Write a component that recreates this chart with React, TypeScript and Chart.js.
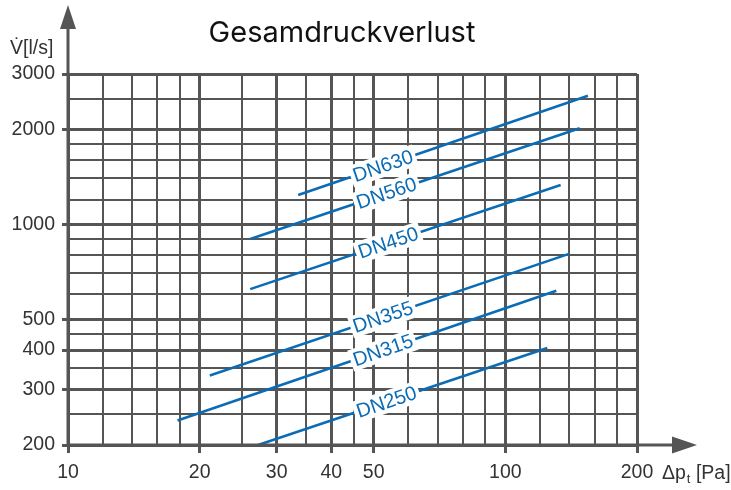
import React, { useEffect, useRef } from 'react';
import { Chart, registerables } from 'chart.js';

Chart.register(...registerables);

// ---- data ----
const seriesNames = ['DN250', 'DN315', 'DN355', 'DN450', 'DN560', 'DN630'];
const dn250 = [{ x: 27.2, y: 200 }, { x: 124.7, y: 406 }];
const dn315 = [{ x: 17.8, y: 239 }, { x: 130.8, y: 617 }];
const dn355 = [{ x: 21.1, y: 332 }, { x: 139.8, y: 807 }];
const dn450 = [{ x: 26.1, y: 624 }, { x: 133.8, y: 1335 }];
const dn560 = [{ x: 26.1, y: 900 }, { x: 147.9, y: 2019 }];
const dn630 = [{ x: 33.6, y: 1241 }, { x: 154.5, y: 2561 }];
const seriesData = [dn250, dn315, dn355, dn450, dn560, dn630];
const labelAtX = [53.5, 52.5, 52.5, 54, 53.5, 52.5];

const xGrid = [10, 12, 14, 16, 18, 20, 25, 30, 35, 40, 45, 50, 60, 70, 80, 90, 100, 120, 140, 160, 180, 200];
const xLabeled = [10, 20, 30, 40, 50, 100, 200];
const yGrid = [200, 250, 300, 350, 400, 450, 500, 600, 700, 800, 900, 1000, 1200, 1400, 1600, 1800, 2000, 2500, 3000];
const yLabeled = [200, 300, 400, 500, 1000, 2000, 3000];

const titleText = 'Gesamdruckverlust';
const yTitle = 'V\u0307[l/s]';

const BLUE = '#0b6cb5';
const GRID = '#555555';
const TEXT = '#333333';
const FONT = '"Liberation Sans", Arial, sans-serif';

const decorPlugin = {
  id: 'decor',
  afterDatasetsDraw(chart: any) {
    const ctx = chart.ctx;
    const xs = chart.scales.x;
    const ys = chart.scales.y;
    chart.data.datasets.forEach((ds: any, i: number) => {
      const p0 = ds.data[0];
      const p1 = ds.data[ds.data.length - 1];
      const x0 = xs.getPixelForValue(p0.x);
      const y0 = ys.getPixelForValue(p0.y);
      const x1 = xs.getPixelForValue(p1.x);
      const y1 = ys.getPixelForValue(p1.y);
      const px = xs.getPixelForValue(labelAtX[i]);
      const t = (px - x0) / (x1 - x0);
      const py = y0 + t * (y1 - y0);
      const ang = Math.atan2(y1 - y0, x1 - x0);
      ctx.save();
      ctx.translate(px, py);
      ctx.rotate(ang);
      ctx.font = '20px ' + FONT;
      const w = ctx.measureText(ds.label).width;
      ctx.fillStyle = '#ffffff';
      ctx.fillRect(-w / 2 - 3, -11, w + 6, 22);
      ctx.fillStyle = BLUE;
      ctx.textAlign = 'center';
      ctx.textBaseline = 'middle';
      ctx.fillText(ds.label, 0, 1);
      ctx.restore();
    });
  },
  afterDraw(chart: any) {
    const ctx = chart.ctx;
    const { left, bottom } = chart.chartArea;
    ctx.save();
    // axes with arrows
    ctx.strokeStyle = GRID;
    ctx.fillStyle = GRID;
    ctx.lineWidth = 3;
    ctx.beginPath();
    ctx.moveTo(left, bottom + 1);
    ctx.lineTo(left, 29);
    ctx.moveTo(left - 1, bottom);
    ctx.lineTo(672, bottom);
    ctx.stroke();
    ctx.beginPath();
    ctx.moveTo(left - 8, 29);
    ctx.lineTo(left + 8, 29);
    ctx.lineTo(left, 5);
    ctx.closePath();
    ctx.fill();
    ctx.beginPath();
    ctx.moveTo(672, bottom - 8.5);
    ctx.lineTo(672, bottom + 8.5);
    ctx.lineTo(697, bottom);
    ctx.closePath();
    ctx.fill();

    // title
    ctx.fillStyle = '#111111';
    ctx.font = '29px Inter, "Liberation Sans", sans-serif';
    ctx.textAlign = 'center';
    ctx.textBaseline = 'alphabetic';
    ctx.fillText(titleText, 342, 42);

    // y axis title
    ctx.fillStyle = TEXT;
    ctx.font = '19.5px ' + FONT;
    ctx.textAlign = 'left';
    ctx.textBaseline = 'middle';
    ctx.fillText(yTitle, 10, 49);

    // x axis title: Δp_t [Pa]
    let xx = 662;
    const yy = 474;
    ctx.font = '19.5px ' + FONT;
    ctx.fillText('\u0394p', xx, yy);
    xx += ctx.measureText('\u0394p').width + 1;
    ctx.font = '13px ' + FONT;
    ctx.fillText('t', xx, yy + 5);
    xx += ctx.measureText('t').width;
    ctx.font = '19.5px ' + FONT;
    ctx.fillText(' [Pa]', xx, yy);
    ctx.restore();
  },
};

export default function App() {
  const ref = useRef<HTMLCanvasElement | null>(null);
  useEffect(() => {
    if (!ref.current) return;
    const chart = new Chart(ref.current, {
      type: 'scatter',
      data: {
        datasets: seriesNames.map((name, i) => ({
          label: name,
          data: seriesData[i],
          showLine: true,
          borderColor: BLUE,
          backgroundColor: BLUE,
          borderWidth: 2.6,
          pointRadius: 0,
          pointHoverRadius: 0,
        })),
      },
      options: {
        responsive: false,
        animation: false,
        devicePixelRatio: 1,
        layout: { padding: { left: 0, top: 74, right: 94, bottom: 0 } },
        plugins: { legend: { display: false }, title: { display: false }, tooltip: { enabled: false } },
        events: [],
        scales: {
          x: {
            type: 'logarithmic',
            min: 10,
            max: 200,
            afterBuildTicks: (s: any) => {
              s.ticks = xGrid.map((v) => ({ value: v }));
            },
            afterFit: (s: any) => {
              s.height = 45;
            },
            ticks: {
              autoSkip: false,
              maxRotation: 0,
              padding: 8,
              color: TEXT,
              font: { family: FONT, size: 19.5 },
              callback: (v: any) => (xLabeled.includes(Number(v)) ? String(v) : ''),
            },
            grid: {
              color: GRID,
              lineWidth: (c: any) => (c.tick && xLabeled.includes(c.tick.value) ? 3 : 2),
              tickLength: 8,
              tickWidth: 3,
              tickColor: (c: any) => (c.tick && xLabeled.includes(c.tick.value) ? GRID : 'rgba(0,0,0,0)'),
            },
            border: { display: false },
          },
          y: {
            type: 'logarithmic',
            min: 200,
            max: 3000,
            afterBuildTicks: (s: any) => {
              s.ticks = yGrid.map((v) => ({ value: v }));
            },
            afterFit: (s: any) => {
              s.width = 68;
            },
            ticks: {
              autoSkip: false,
              padding: 7,
              color: TEXT,
              font: { family: FONT, size: 19.5 },
              callback: (v: any) => (yLabeled.includes(Number(v)) ? String(v) : ''),
            },
            grid: {
              color: GRID,
              lineWidth: (c: any) => (c.tick && yLabeled.includes(c.tick.value) ? 3 : 2),
              tickLength: 6,
              tickWidth: 3,
              tickColor: (c: any) => (c.tick && yLabeled.includes(c.tick.value) ? GRID : 'rgba(0,0,0,0)'),
            },
            border: { display: false },
          },
        },
      },
      plugins: [decorPlugin],
    } as any);
    return () => chart.destroy();
  }, []);
  return (
    <div style={{ position: 'absolute', left: 0, top: 0, width: 731, height: 490, background: '#fff' }}>
      <canvas ref={ref} width={731} height={490} style={{ display: 'block' }} />
    </div>
  );
}
